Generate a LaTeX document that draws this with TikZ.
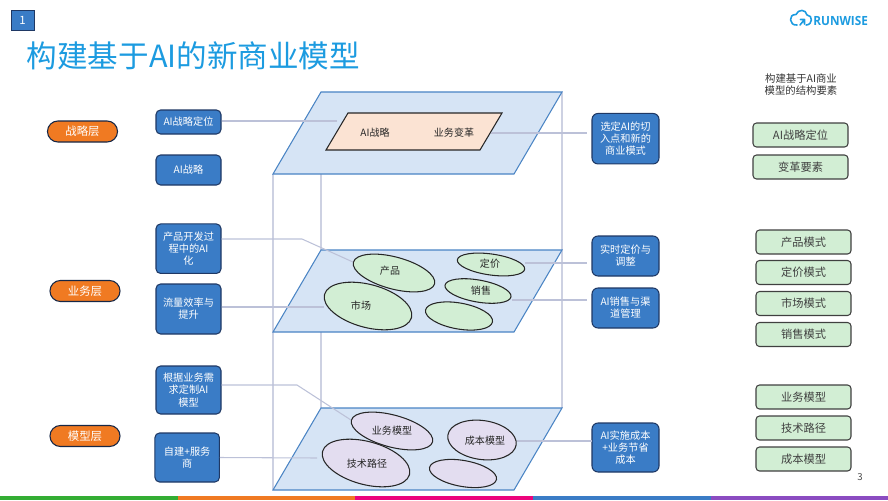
\documentclass[tikz,border=0pt]{standalone}
\usepackage{fontspec}
\setmainfont{Noto Sans CJK SC}
\setsansfont{Open Sans}
\usetikzlibrary{shapes.geometric}
\definecolor{planeblue}{HTML}{D6E4F5}
\definecolor{edgeblue}{HTML}{4A84C4}
\definecolor{boxblue}{HTML}{3A7CC6}
\definecolor{boxedge}{HTML}{1F3864}
\definecolor{pillorange}{HTML}{F07A22}
\definecolor{softgreen}{HTML}{D2EED4}
\definecolor{softpurple}{HTML}{E3DDF0}
\definecolor{peach}{HTML}{FBE3D3}
\definecolor{linkgrey}{HTML}{BCC1D8}
\definecolor{titleblue}{HTML}{1C9BE0}
\def\px{0.02cm}
\tikzset{
	plane/.style={draw=edgeblue,fill=planeblue,line width=0.6pt,line join=miter},
	link/.style={draw=linkgrey,line width=0.6pt},
	bluebox/.style={draw=boxedge,fill=boxblue,text=white,line width=0.6pt,rounded corners=2.6pt,align=center,inner sep=0pt,
		font=\fontsize{5.8}{6.9}\selectfont},
	pill/.style={draw=boxedge!70!black,fill=pillorange,text=white,line width=0.6pt,rounded corners=5.9pt,inner sep=0pt,
		minimum width=70*\px,minimum height=21*\px,font=\fontsize{6.5}{7.5}\selectfont},
	greenbox/.style={draw=black!75,fill=softgreen,text=black!75,line width=0.6pt,rounded corners=2pt,inner sep=0pt,
		minimum width=95*\px,minimum height=24*\px,font=\fontsize{6.4}{7.5}\selectfont},
	oval/.style={ellipse,draw=black!85,line width=0.6pt,inner sep=0pt},
	ovaltext/.style={text=black!85,inner sep=0pt,font=\fontsize{5.7}{6.8}\selectfont},
}
\begin{document}
\begin{tikzpicture}[x=0.02cm,y=-0.02cm]
	\useasboundingbox (0,0) rectangle (888,500);
	% rear edges of the stack
	\coordinate (topA) at (321,92);
	\coordinate (topB) at (562,92);
	\coordinate (topC) at (514,174);
	\coordinate (topD) at (273,174);
	\coordinate (midA) at (321,250);
	\coordinate (midB) at (562,250);
	\coordinate (midC) at (514,332);
	\coordinate (midD) at (273,332);
	\coordinate (lowA) at (321,408);
	\coordinate (lowB) at (562,408);
	\coordinate (lowC) at (514,490);
	\coordinate (lowD) at (273,490);
	\draw[draw=linkgrey!75,line width=0.7pt] (topD) to (lowD) (topD -| topA) to (lowA) (topB) to (lowB);
	% planes
	\draw[plane] (topA) to (topB) to (topC) to (topD) to cycle;
	\draw[plane] (midA) to (midB) to (midC) to (midD) to cycle;
	\draw[plane] (lowA) to (lowB) to (lowC) to (lowD) to cycle;
	\draw[fill=peach,draw=black!85,line width=0.6pt] (348,113) to (502,113) to (480,150) to (326,150) to cycle;
	\node[ovaltext] (aiStrategy) at (375,133) {AI战略};
	\node[ovaltext] (change) at (454,133) {业务变革};
	% ovals
	\node[oval,fill=softgreen,rotate=-15,minimum width=84*\px,minimum height=32*\px] (product) at (394,273) {};
	\node[oval,fill=softgreen,rotate=-8,minimum width=68*\px,minimum height=21*\px] (price) at (491,264.5) {};
	\node[oval,fill=softgreen,rotate=-10,minimum width=67*\px,minimum height=22*\px] (sales) at (478,291) {};
	\node[oval,fill=softgreen,rotate=-15,minimum width=90*\px,minimum height=43*\px] (market) at (368,306) {};
	\node[oval,fill=softgreen,rotate=-10,minimum width=68*\px,minimum height=26*\px] (spare) at (459,316) {};
	\node[oval,fill=softpurple,rotate=-15,minimum width=84*\px,minimum height=32*\px] (bizModel) at (392,431) {};
	\node[oval,fill=softpurple,rotate=-15,minimum width=90*\px,minimum height=43*\px] (techPath) at (366,463) {};
	\node[oval,fill=softpurple,rotate=-8,minimum width=69*\px,minimum height=39*\px] (costModel) at (482,440) {};
	\node[oval,fill=softpurple,rotate=-10,minimum width=68*\px,minimum height=26*\px] (spareB) at (463,473.5) {};
	\node[ovaltext] (productT) at (390,271) {产品};
	\node[ovaltext] (priceT) at (490,264) {定价};
	\node[ovaltext] (salesT) at (481,291) {销售};
	\node[ovaltext] (marketT) at (361,306) {市场};
	\node[ovaltext] (bizModelT) at (392,431) {业务模型};
	\node[ovaltext] (techPathT) at (367,464) {技术路径};
	\node[ovaltext] (costModelT) at (485,441) {成本模型};
	% left column
	\node[pill] (layerA) at (82.5,131.5) {战略层};
	\node[pill] (layerB) at (85,291) {业务层};
	\node[pill] (layerC) at (85,436) {模型层};
	\node[bluebox,minimum width=65*\px,minimum height=24*\px] (posBox) at (188.5,122) {AI战略定位};
	\node[bluebox,minimum width=65*\px,minimum height=30*\px] (stratBox) at (188.5,170) {AI战略};
	\node[bluebox,minimum width=65*\px,minimum height=49.5*\px] (devBox) at (188.5,248.7) {产品开发过\\程中的AI\\化};
	\node[bluebox,minimum width=65*\px,minimum height=50*\px] (flowBox) at (188.5,309) {流量效率与\\提升};
	\node[bluebox,minimum width=65*\px,minimum height=48*\px] (fitBox) at (188.5,390) {根据业务需\\求定制AI\\模型};
	\node[bluebox,minimum width=64.5*\px,minimum height=49*\px] (buildBox) at (187.2,457.5) {自建+服务\\商};
	% right column
	\node[bluebox,rounded corners=3.4pt,minimum width=67*\px,minimum height=50.5*\px] (entryBox) at (625.5,138.7) {选定AI的切\\入点和新的\\商业模式};
	\node[bluebox,rounded corners=3.4pt,minimum width=67*\px,minimum height=40*\px] (liveBox) at (625.5,256) {实时定价与\\调整};
	\node[bluebox,rounded corners=3.4pt,minimum width=67*\px,minimum height=40*\px] (channelBox) at (625.5,308) {AI销售与渠\\道管理};
	\node[bluebox,rounded corners=3.4pt,minimum width=67*\px,minimum height=49*\px] (costBox) at (625.5,447.5) {AI实施成本\\+业务节省\\成本};
	% connectors
	\coordinate (posEnd) at (337,121);
	\coordinate (entryStart) at (491,133);
	\coordinate (entryEnd) at (587,133);
	\coordinate (liveEnd) at (587,263);
	\coordinate (channelEnd) at (587,300);
	\coordinate (costEnd) at (592,441);
	\coordinate (devBend) at (302,239);
	\coordinate (flowEnd) at (324,307);
	\coordinate (fitBend) at (297,385);
	\coordinate (buildEnd) at (317,458);
	\draw[link] (posBox.east |- posEnd) to (posEnd);
	\draw[link] (entryStart) to (entryEnd);
	\draw[link] (devBox.east |- devBend) to (devBend) to (product.west);
	\draw[link] (flowBox.east |- flowEnd) to (flowEnd);
	\draw[link] (price.east |- liveEnd) to (liveEnd);
	\draw[link] (sales.east |- channelEnd) to (channelEnd);
	\draw[link] (fitBox.east |- fitBend) to (fitBend) to (bizModel.west);
	\draw[link] (buildBox.east) to (buildEnd);
	\draw[link,line width=0.8pt] (costModel.east |- costEnd) to (costEnd);
	% structure elements
	\node[align=center,text=black!80,inner sep=0pt,font=\fontsize{5.9}{7.1}\selectfont] (headNote) at (801,84.5) {构建基于AI商业\\模型的结构要素};
	\node[greenbox] (elemA) at (800.5,135) {AI战略定位};
	\node[greenbox] (elemB) at (800.5,167) {变革要素};
	\node[greenbox] (elemC) at (803.5,242) {产品模式};
	\node[greenbox] (elemD) at (803.5,272.5) {定价模式};
	\node[greenbox] (elemE) at (803.5,303.5) {市场模式};
	\node[greenbox] (elemF) at (803.5,334.5) {销售模式};
	\node[greenbox] (elemG) at (803.5,397) {业务模型};
	\node[greenbox] (elemH) at (803.5,428) {技术路径};
	\node[greenbox] (elemI) at (803.5,459) {成本模型};
	% page furniture
	\node[draw=boxedge,fill=boxblue,text=white,inner sep=0pt,minimum width=23*\px,minimum height=20*\px,font=\fontsize{6.5}{7.5}\selectfont] (sectionNo) at (22.5,20) {1};
	\node[anchor=west,text=titleblue,inner sep=0pt,font=\fontsize{17.4}{20}\selectfont] (title) at (26.5,55.5) {构建基于AI的新商业模型};
	\node[text=black!70,inner sep=0pt,font=\fontsize{5.5}{6.5}\selectfont] (pageNo) at (860,477) {3};
	\node[anchor=west,text=titleblue,inner sep=0pt,xscale=0.93,font=\sffamily\bfseries\fontsize{7.2}{9}\selectfont] (logo) at (813,20.5) {RUNWISE};
	\draw[titleblue,line width=0.9pt,line cap=round,line join=round]
		(797,25) .. controls (789,26) and (788,14) .. (796,14.5)
		.. controls (798,9) and (806,9) .. (807,15)
		.. controls (813,15) and (813,25) .. (806,25);
	\draw[titleblue,line width=0.9pt,line cap=round,line join=round] (800,25) to (804.5,19.5) (800.5,19.5) to (804.5,19.5) to (804.5,24);
	\fill[green!60!black!80!white] (0,496) rectangle (178,500);
	\fill[pillorange] (178,496) rectangle (355,500);
	\fill[magenta!85!red] (355,496) rectangle (533,500);
	\fill[boxblue] (533,496) rectangle (711,500);
	\fill[violet!70!blue!70!white] (711,496) rectangle (888,500);
\end{tikzpicture}
\end{document}
